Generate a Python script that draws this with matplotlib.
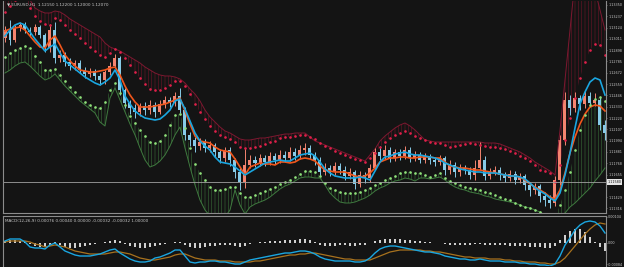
import numpy as np
import matplotlib
matplotlib.use('Agg')
import matplotlib.pyplot as plt

# EURUSD H1 candles (open of each bar = close of previous bar)
first_open = 1.1302
close = [1.1310, 1.1300, 1.1312, 1.1315, 1.1310, 1.1308, 1.1313, 1.1305, 1.1292, 1.1310,
         1.1282, 1.1285, 1.1278, 1.1274, 1.1277, 1.1270, 1.1266, 1.1269, 1.1264, 1.1260,
         1.1268, 1.1274, 1.1282, 1.1250, 1.1237, 1.1232, 1.1228, 1.1234, 1.1230, 1.1235,
         1.1228, 1.1236, 1.1240, 1.1237, 1.1244, 1.1230, 1.1205, 1.1200, 1.1194, 1.1198,
         1.1192, 1.1195, 1.1188, 1.1182, 1.1190, 1.1180, 1.1168, 1.1158, 1.1175, 1.1180,
         1.1177, 1.1182, 1.1178, 1.1184, 1.1180, 1.1185, 1.1182, 1.1188, 1.1184, 1.1190,
         1.1192, 1.1185, 1.1180, 1.1168, 1.1172, 1.1168, 1.1174, 1.1170, 1.1164, 1.1168,
         1.1156, 1.1165, 1.1162, 1.1172, 1.1188, 1.1184, 1.1190, 1.1182, 1.1188, 1.1184,
         1.1190, 1.1182, 1.1185, 1.1180, 1.1184, 1.1180, 1.1178, 1.1182, 1.1170, 1.1175,
         1.1168, 1.1172, 1.1170, 1.1165, 1.1172, 1.1180, 1.1164, 1.1168, 1.1170, 1.1165,
         1.1162, 1.1166, 1.1160, 1.1164, 1.1155, 1.1150, 1.1154, 1.1144, 1.1140, 1.1137,
         1.1160, 1.1200, 1.1240, 1.1232, 1.1242, 1.1236, 1.1244, 1.1237, 1.1240, 1.1215,
         1.1207]
high = [1.1314, 1.1320, 1.1315, 1.1318, 1.1318, 1.1313, 1.1316, 1.1315, 1.1307, 1.1316,
        1.1318, 1.1290, 1.1288, 1.1282, 1.1280, 1.1280, 1.1273, 1.1272, 1.1271, 1.1267,
        1.1270, 1.1278, 1.1286, 1.1284, 1.1252, 1.1240, 1.1236, 1.1237, 1.1238, 1.1240,
        1.1238, 1.1240, 1.1244, 1.1243, 1.1248, 1.1252, 1.1233, 1.1208, 1.1203, 1.1202,
        1.1201, 1.1199, 1.1197, 1.1191, 1.1193, 1.1193, 1.1182, 1.1172, 1.1192, 1.1185,
        1.1184, 1.1186, 1.1185, 1.1188, 1.1187, 1.1190, 1.1189, 1.1193, 1.1192, 1.1195,
        1.1197, 1.1195, 1.1188, 1.1183, 1.1177, 1.1175, 1.1178, 1.1177, 1.1174, 1.1172,
        1.1170, 1.1169, 1.1168, 1.1176, 1.1192, 1.1194, 1.1195, 1.1193, 1.1191, 1.1191,
        1.1194, 1.1193, 1.1189, 1.1188, 1.1187, 1.1186, 1.1183, 1.1185, 1.1184, 1.1180,
        1.1178, 1.1176, 1.1175, 1.1173, 1.1180, 1.1198, 1.1184, 1.1172, 1.1174, 1.1173,
        1.1168, 1.1170, 1.1169, 1.1167, 1.1166, 1.1158, 1.1157, 1.1156, 1.1148, 1.1145,
        1.1164, 1.1205, 1.1248, 1.1245, 1.1248, 1.1245, 1.1250, 1.1248, 1.1247, 1.1243,
        1.1220]
low = [1.1298, 1.1295, 1.1298, 1.1309, 1.1307, 1.1304, 1.1305, 1.1302, 1.1288, 1.1288,
       1.1277, 1.1278, 1.1274, 1.1270, 1.1270, 1.1267, 1.1262, 1.1263, 1.1260, 1.1255,
       1.1256, 1.1265, 1.1272, 1.1245, 1.1232, 1.1226, 1.1222, 1.1224, 1.1225, 1.1226,
       1.1223, 1.1226, 1.1232, 1.1233, 1.1234, 1.1227, 1.1200, 1.1194, 1.1188, 1.1190,
       1.1188, 1.1188, 1.1183, 1.1177, 1.1178, 1.1174, 1.1162, 1.1150, 1.1152, 1.1172,
       1.1173, 1.1174, 1.1174, 1.1175, 1.1176, 1.1177, 1.1178, 1.1179, 1.1180, 1.1181,
       1.1185, 1.1181, 1.1175, 1.1164, 1.1165, 1.1164, 1.1165, 1.1166, 1.1160, 1.1161,
       1.1151, 1.1153, 1.1157, 1.1158, 1.1170, 1.1180, 1.1181, 1.1178, 1.1179, 1.1180,
       1.1181, 1.1178, 1.1179, 1.1177, 1.1177, 1.1176, 1.1174, 1.1175, 1.1165, 1.1166,
       1.1163, 1.1164, 1.1166, 1.1161, 1.1160, 1.1170, 1.1160, 1.1161, 1.1165, 1.1160,
       1.1158, 1.1159, 1.1156, 1.1157, 1.1150, 1.1144, 1.1146, 1.1138, 1.1134, 1.1132,
       1.1134, 1.1155, 1.1195, 1.1225, 1.1228, 1.1230, 1.1232, 1.1233, 1.1234, 1.1210,
       1.1200]

# moving averages
ma_fast = [1.1304, 1.1310, 1.1315, 1.1317, 1.1315, 1.1308, 1.1301, 1.1295, 1.1289, 1.1293,
           1.1296, 1.1287, 1.1279, 1.1275, 1.1271, 1.1267, 1.1263, 1.1260, 1.1257, 1.1255,
           1.1258, 1.1262, 1.1270, 1.1260, 1.1244, 1.1236, 1.1229, 1.1225, 1.1222, 1.1221,
           1.1220, 1.1221, 1.1225, 1.1230, 1.1239, 1.1241, 1.1231, 1.1219, 1.1207, 1.1199,
           1.1194, 1.1190, 1.1183, 1.1178, 1.1177, 1.1176, 1.1173, 1.1169, 1.1165, 1.1168,
           1.1171, 1.1174, 1.1177, 1.1178, 1.1179, 1.1180, 1.1179, 1.1179, 1.1182, 1.1185,
           1.1186, 1.1187, 1.1184, 1.1178, 1.1171, 1.1167, 1.1164, 1.1163, 1.1162, 1.1162,
           1.1162, 1.1163, 1.1162, 1.1160, 1.1169, 1.1178, 1.1183, 1.1184, 1.1186, 1.1187,
           1.1188, 1.1186, 1.1185, 1.1185, 1.1184, 1.1183, 1.1182, 1.1180, 1.1177, 1.1175,
           1.1173, 1.1171, 1.1170, 1.1169, 1.1168, 1.1168, 1.1167, 1.1167, 1.1167, 1.1166,
           1.1165, 1.1164, 1.1164, 1.1163, 1.1161, 1.1157, 1.1152, 1.1149, 1.1146, 1.1142,
           1.1139, 1.1147, 1.1165, 1.1187, 1.1212, 1.1236, 1.1248, 1.1258, 1.1262, 1.1260,
           1.1245]
ma_slow = [1.1309, 1.1311, 1.1312, 1.1313, 1.1310, 1.1304, 1.1298, 1.1293, 1.1292, 1.1300,
           1.1304, 1.1295, 1.1285, 1.1279, 1.1274, 1.1270, 1.1269, 1.1268, 1.1268, 1.1269,
           1.1270, 1.1272, 1.1273, 1.1265, 1.1254, 1.1245, 1.1238, 1.1233, 1.1233, 1.1233,
           1.1234, 1.1235, 1.1236, 1.1238, 1.1240, 1.1242, 1.1229, 1.1216, 1.1204, 1.1199,
           1.1198, 1.1197, 1.1193, 1.1190, 1.1189, 1.1188, 1.1181, 1.1173, 1.1165, 1.1173,
           1.1175, 1.1177, 1.1176, 1.1176, 1.1175, 1.1178, 1.1178, 1.1177, 1.1178, 1.1181,
           1.1182, 1.1181, 1.1179, 1.1174, 1.1170, 1.1169, 1.1168, 1.1168, 1.1168, 1.1166,
           1.1164, 1.1163, 1.1164, 1.1167, 1.1172, 1.1178, 1.1180, 1.1182, 1.1182, 1.1183,
           1.1183, 1.1182, 1.1182, 1.1183, 1.1183, 1.1183, 1.1182, 1.1182, 1.1178, 1.1174,
           1.1173, 1.1172, 1.1172, 1.1171, 1.1170, 1.1170, 1.1169, 1.1168, 1.1167, 1.1166,
           1.1165, 1.1164, 1.1164, 1.1163, 1.1160, 1.1156, 1.1153, 1.1150, 1.1147, 1.1143,
           1.1141, 1.1150, 1.1167, 1.1187, 1.1203, 1.1216, 1.1226, 1.1233, 1.1235, 1.1234,
           1.1229]

# upper envelope: dots and outer edge
upper_dots = [1.1328, 1.1334, 1.1340, 1.1344, 1.1342, 1.1332, 1.1324, 1.1319, 1.1316, 1.1315,
              1.1322, 1.1320, 1.1315, 1.1310, 1.1306, 1.1302, 1.1297, 1.1293, 1.1289, 1.1285,
              1.1283, 1.1287, 1.1291, 1.1288, 1.1282, 1.1275, 1.1268, 1.1262, 1.1256, 1.1251,
              1.1250, 1.1250, 1.1252, 1.1255, 1.1259, 1.1259, 1.1254, 1.1246, 1.1236, 1.1228,
              1.1221, 1.1214, 1.1209, 1.1205, 1.1203, 1.1201, 1.1198, 1.1193, 1.1192, 1.1192,
              1.1193, 1.1194, 1.1196, 1.1198, 1.1199, 1.1202, 1.1203, 1.1203, 1.1204, 1.1205,
              1.1205, 1.1203, 1.1201, 1.1197, 1.1194, 1.1192, 1.1189, 1.1187, 1.1185, 1.1183,
              1.1181, 1.1180, 1.1178, 1.1182, 1.1187, 1.1193, 1.1198, 1.1202, 1.1205, 1.1207,
              1.1209, 1.1207, 1.1204, 1.1202, 1.1200, 1.1198, 1.1197, 1.1197, 1.1195, 1.1193,
              1.1194, 1.1195, 1.1196, 1.1197, 1.1196, 1.1195, 1.1194, 1.1193, 1.1193, 1.1192,
              1.1191, 1.1189, 1.1187, 1.1184, 1.1182, 1.1179, 1.1175, 1.1170, 1.1169, 1.1167,
              1.1158, 1.1175, 1.1200, 1.1222, 1.1242, 1.1262, 1.1278, 1.1290, 1.1296, 1.1295,
              1.1285]
upper_edge = [1.1345, 1.1350, 1.1355, 1.1355, 1.1352, 1.1340, 1.1332, 1.1329, 1.1327, 1.1327,
              1.1329, 1.1328, 1.1325, 1.1321, 1.1318, 1.1315, 1.1312, 1.1309, 1.1306, 1.1303,
              1.1297, 1.1293, 1.1291, 1.1289, 1.1286, 1.1283, 1.1280, 1.1277, 1.1273, 1.1270,
              1.1267, 1.1265, 1.1264, 1.1264, 1.1263, 1.1261, 1.1257, 1.1251, 1.1246, 1.1239,
              1.1230, 1.1223, 1.1218, 1.1213, 1.1209, 1.1207, 1.1204, 1.1201, 1.1200, 1.1200,
              1.1201, 1.1202, 1.1202, 1.1203, 1.1204, 1.1205, 1.1206, 1.1206, 1.1207, 1.1207,
              1.1207, 1.1203, 1.1199, 1.1197, 1.1195, 1.1193, 1.1191, 1.1189, 1.1187, 1.1185,
              1.1183, 1.1181, 1.1179, 1.1185, 1.1191, 1.1199, 1.1204, 1.1208, 1.1212, 1.1215,
              1.1217, 1.1214, 1.1210, 1.1205, 1.1200, 1.1199, 1.1198, 1.1198, 1.1198, 1.1198,
              1.1198, 1.1198, 1.1198, 1.1198, 1.1198, 1.1198, 1.1197, 1.1197, 1.1197, 1.1196,
              1.1194, 1.1192, 1.1190, 1.1188, 1.1185, 1.1182, 1.1178, 1.1175, 1.1172, 1.1169,
              1.1165, 1.1210, 1.1260, 1.1310, 1.1360, 1.1380, 1.1380, 1.1370, 1.1350, 1.1330,
              1.1310]

# lower envelope: dots and outer edge
lower_dots = [1.1283, 1.1287, 1.1290, 1.1292, 1.1294, 1.1292, 1.1284, 1.1278, 1.1270, 1.1270,
              1.1271, 1.1265, 1.1259, 1.1253, 1.1248, 1.1243, 1.1238, 1.1235, 1.1233, 1.1232,
              1.1238, 1.1250, 1.1257, 1.1247, 1.1235, 1.1224, 1.1217, 1.1210, 1.1204, 1.1198,
              1.1197, 1.1199, 1.1205, 1.1215, 1.1225, 1.1226, 1.1212, 1.1192, 1.1176, 1.1167,
              1.1160, 1.1153, 1.1150, 1.1150, 1.1151, 1.1153, 1.1153, 1.1147, 1.1143, 1.1143,
              1.1145, 1.1147, 1.1149, 1.1151, 1.1153, 1.1156, 1.1158, 1.1160, 1.1163, 1.1166,
              1.1169, 1.1169, 1.1168, 1.1164, 1.1157, 1.1152, 1.1150, 1.1148, 1.1147, 1.1147,
              1.1147, 1.1148, 1.1150, 1.1152, 1.1155, 1.1157, 1.1160, 1.1162, 1.1164, 1.1167,
              1.1168, 1.1168, 1.1167, 1.1167, 1.1165, 1.1163, 1.1165, 1.1167, 1.1162, 1.1159,
              1.1157, 1.1155, 1.1153, 1.1152, 1.1151, 1.1150, 1.1148, 1.1147, 1.1145, 1.1143,
              1.1141, 1.1140, 1.1137, 1.1135, 1.1133, 1.1132, 1.1130, 1.1128, 1.1126, 1.1125,
              1.1123, 1.1135, 1.1150, 1.1168, 1.1190, 1.1210, 1.1225, 1.1235, 1.1241, 1.1243,
              1.1239]
lower_edge = [1.1267, 1.1270, 1.1274, 1.1277, 1.1278, 1.1274, 1.1269, 1.1264, 1.1260, 1.1262,
              1.1266, 1.1260, 1.1254, 1.1249, 1.1244, 1.1239, 1.1235, 1.1231, 1.1227, 1.1218,
              1.1214, 1.1242, 1.1252, 1.1240, 1.1228, 1.1216, 1.1205, 1.1192, 1.1180, 1.1173,
              1.1175, 1.1179, 1.1185, 1.1194, 1.1205, 1.1213, 1.1192, 1.1173, 1.1155, 1.1140,
              1.1130, 1.1124, 1.1122, 1.1122, 1.1123, 1.1130, 1.1150, 1.1135, 1.1126, 1.1133,
              1.1136, 1.1138, 1.1140, 1.1143, 1.1147, 1.1151, 1.1154, 1.1156, 1.1159, 1.1162,
              1.1163, 1.1163, 1.1162, 1.1162, 1.1155, 1.1147, 1.1142, 1.1138, 1.1137, 1.1137,
              1.1138, 1.1140, 1.1142, 1.1145, 1.1149, 1.1152, 1.1154, 1.1157, 1.1159, 1.1160,
              1.1162, 1.1161, 1.1159, 1.1162, 1.1162, 1.1161, 1.1162, 1.1163, 1.1160, 1.1156,
              1.1153, 1.1151, 1.1150, 1.1148, 1.1147, 1.1146, 1.1144, 1.1143, 1.1141, 1.1140,
              1.1139, 1.1138, 1.1137, 1.1135, 1.1133, 1.1132, 1.1130, 1.1128, 1.1125, 1.1122,
              1.1120, 1.1122, 1.1127, 1.1133, 1.1137, 1.1142, 1.1147, 1.1152, 1.1159, 1.1165,
              1.1172]

hline_price = 1.1158

# MACD panel, in units of 0.00001
macd_hist = [8, 12, 12, 8, 4, -4, -12, -16, -16, -8, 4,
             -8, -16, -20, -20, -16, -12, -8, -4, 0, 4,
             8, 12, 8, -4, -12,
             -16, -20, -20, -16, -12, -8, -4, 0, 4, 4,
             -8, -16, -20, -20, -16, -12, -12, -8, -8, -8,
             -12, -16, -12, -4, 0,
             4, 4, 8, 8, 8, 12, 12, 12, 16, 16, 12, 4,
             -8, -12, -12, -12, -8, -8, -12, -12, -8, -8,
             0, 8, 12, 16, 16, 16, 16, 12, 12, 8,
             8, 4, 4, 0, 0, -4, -8, -8, -8, -8, -8, -4,
             -4, -8, -8, -8, -8, -8, -12, -12, -12, -12, -16, -16, -16, -20, -20, -12,
             12, 32, 48, 56, 56, 44, 24, 4, -16, -32]
macd_main = [8, 16, 16, 16, 4, -16, -20, -20, -24, -8,
             0, -16, -32, -40, -48, -52, -52, -52, -48, -44,
             -36, -28, -24, -40, -52, -64, -72, -76, -76, -72,
             -60, -56, -48, -40, -28, -28, -52, -76, -80, -76,
             -76, -72, -72, -76, -76, -80, -84, -84, -76, -68,
             -64, -60, -56, -52, -48, -44, -40, -40, -36, -32,
             -32, -36, -44, -56, -64, -68, -72, -72, -72, -72,
             -76, -76, -72, -60, -40, -24, -16, -12, -12, -16,
             -20, -24, -28, -32, -36, -36, -40, -44, -52, -56,
             -60, -64, -64, -68, -68, -64, -68, -72, -72, -72,
             -76, -76, -76, -80, -80, -84, -84, -88, -88, -92,
             -84, -52, -8, 20, 52, 72, 84, 88, 84, 68,
             40]
macd_signal = [4, 8, 8, 8, 8, 4, -4, -8, -16, -12,
               -8, -12, -16, -24, -32, -36, -40, -44, -44, -44,
               -44, -40, -36, -36, -40, -44, -52, -60, -64, -68,
               -68, -64, -60, -56, -48, -44, -44, -52, -60, -64,
               -68, -68, -68, -72, -72, -72, -76, -76, -76, -76,
               -72, -72, -68, -64, -60, -56, -52, -48, -48, -44,
               -44, -40, -40, -44, -48, -52, -56, -60, -64, -64,
               -68, -68, -68, -68, -60, -52, -44, -36, -32, -28,
               -28, -28, -28, -28, -32, -32, -36, -36, -40, -44,
               -48, -52, -56, -56, -60, -60, -60, -64, -64, -64,
               -68, -68, -72, -72, -76, -76, -76, -80, -80, -84,
               -84, -76, -60, -36, -12, 12, 36, 56, 72, 80,
               76]

bg = '#141414'
grey = '#8c8c8c'
txt = '#c8c8c8'
plt.rcParams['hatch.linewidth'] = 0.4

x = np.arange(len(close))
c = np.array(close)
o = np.array([first_open] + close[:-1])
cols = np.where(c >= o, '#f4846f', '#87cbe8')

fig = plt.figure(figsize=(6.24, 2.67), dpi=100, facecolor=bg)
ax = fig.add_axes([3 / 624, 1 - 213 / 267, 603 / 624, 212 / 267], facecolor=bg)
ax2 = fig.add_axes([3 / 624, 1 / 267, 603 / 624, 50 / 267], facecolor=bg)

# bands
ax.fill_between(x, upper_dots, upper_edge, facecolor='none', edgecolor='#6e1529',
                hatch='|||||', linewidth=0)
ax.plot(x, upper_edge, color='#7d1830', lw=0.7)
ax.fill_between(x, lower_dots, lower_edge, facecolor='none', edgecolor='#386e38',
                hatch='|||||', linewidth=0)
ax.plot(x, lower_edge, color='#3f7a3f', lw=0.7)

# candles
ax.vlines(x, low, high, colors=cols, lw=0.7)
ax.bar(x, c - o, bottom=o, width=0.6, color=cols, linewidth=0)

# moving averages
ax.plot(x, ma_slow, color='#f0561c', lw=1.2)
ax.plot(x, ma_fast, color='#1aa6e0', lw=1.2)

# band dots
ax.plot(x, upper_dots, 'o', color='#e0204a', ms=1.9, mew=0)
ax.plot(x, lower_dots, 'o', color='#8fe07a', ms=1.9, mew=0)

ax.axhline(hline_price, color='#a0a0a0', lw=0.6)

ax.set_xlim(-0.4, 120.2)
ax.set_ylim(1.1127, 1.1339)
ax.set_xticks([])
ticks = [1.13350 - k * 0.00113 for k in range(19)]
ticks = [t for t in ticks if abs(t - hline_price) > 0.0006]
ax.yaxis.tick_right()
ax.set_yticks(ticks)
ax.set_yticklabels(['%.5f' % t for t in ticks])
ax.tick_params(axis='y', colors=grey, labelcolor=txt, labelsize=2.4, length=1, width=0.5, pad=0.6)
ax.text(1.002, hline_price, '%.5f' % hline_price, transform=ax.get_yaxis_transform(),
        fontsize=2.4, color='#101010', va='center', ha='left', clip_on=False,
        bbox=dict(boxstyle='square,pad=0.2', fc='#e6e6e6', ec='none'))
ax.spines['top'].set_visible(False)
for s in ['left', 'right', 'bottom']:
    ax.spines[s].set_color(grey)
    ax.spines[s].set_linewidth(0.8)
ax.text(0.006, 0.995, '▼ EURUSD,H1  1.12150 1.12200 1.12000 1.12070', transform=ax.transAxes,
        fontsize=3, color=txt, va='top', ha='left')

# MACD panel
h = np.array(macd_hist) * 1e-5
ax2.bar(x, h, width=0.45, color='#d0d0d0', linewidth=0)
ax2.plot(x, np.array(macd_signal) * 1e-5, color='#a8721e', lw=0.9)
ax2.plot(x, np.array(macd_main) * 1e-5, color='#1aa6e0', lw=1.0)
ax2.set_xlim(-0.4, 120.2)
ax2.set_ylim(-0.00092, 0.00108)
ax2.set_xticks([])
ax2.yaxis.tick_right()
ax2.set_yticks([0.00104, 0.0, -0.00084])
ax2.set_yticklabels(['0.00104', '0.00', '-0.00084'])
ax2.tick_params(axis='y', colors=grey, labelcolor=txt, labelsize=2.4, length=1, width=0.5, pad=0.6)
for s in ['left', 'right', 'top', 'bottom']:
    ax2.spines[s].set_color(grey)
    ax2.spines[s].set_linewidth(0.8)
ax2.spines['bottom'].set_visible(False)
ax2.text(0.004, 0.95, 'MACD(12,26,9) 0.00076 0.00040 0.00000 -0.00032 -0.00032 1.00000',
         transform=ax2.transAxes, fontsize=3, color=txt, va='top', ha='left')

fig.savefig('out.png', dpi=100, facecolor=bg)
